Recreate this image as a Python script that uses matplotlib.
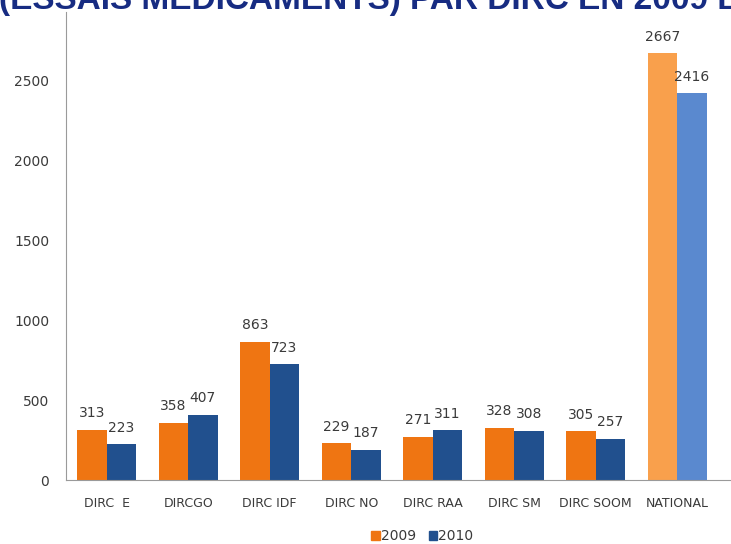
import numpy as np
from matplotlib import pyplot as plt
from matplotlib.patches import Patch

categories = ["DIRC  E", "DIRCGO", "DIRC IDF", "DIRC NO", "DIRC RAA",
              "DIRC SM", "DIRC SOOM", "NATIONAL"]
values_2009 = [313, 358, 863, 229, 271, 328, 305, 2667]
values_2010 = [223, 407, 723, 187, 311, 308, 257, 2416]
years = ["2009", "2010"]

ORANGE = "#EF7512"
BLUE = "#21508E"
ORANGE_NAT = "#F9A04C"
BLUE_NAT = "#5A89CF"
TITLE_COLOR = "#172C82"
TEXT = "#3A3A3A"

fig = plt.figure(figsize=(7.31, 5.44), dpi=100)
# axis runs from y=12px down to y=480px, x from 66px to the right edge
ax = fig.add_axes([66 / 731, 1 - 480 / 544, 1 - 66 / 731, 468 / 544])

x = np.arange(len(categories))
w = 0.36
col09 = [ORANGE] * 7 + [ORANGE_NAT]
col10 = [BLUE] * 7 + [BLUE_NAT]
b1 = ax.bar(x - w / 2, values_2009, w, color=col09, edgecolor="none")
b2 = ax.bar(x + w / 2, values_2010, w, color=col10, edgecolor="none")

for bars, vals in ((b1, values_2009), (b2, values_2010)):
    for bar, v in zip(bars, vals):
        ax.annotate(str(v), (bar.get_x() + bar.get_width() / 2, v),
                    xytext=(0, 12), textcoords="offset points",
                    ha="center", va="center", fontsize=10, color=TEXT)

ax.set_xlim(-0.5, 7.66)
ax.set_ylim(0, 2925)
ax.set_yticks([0, 500, 1000, 1500, 2000, 2500])
ax.set_xticks(x)
ax.set_xticklabels(categories, fontsize=9, color=TEXT)
ax.tick_params(axis="y", labelsize=10, colors=TEXT, length=0, pad=12)
ax.tick_params(axis="x", length=0, pad=12)
for s in ("top", "right"):
    ax.spines[s].set_visible(False)
ax.spines["left"].set_color("#9A9A9A")
ax.spines["bottom"].set_color("#9A9A9A")
ax.patch.set_alpha(0)

handles = [Patch(color=ORANGE), Patch(color=BLUE)]
fig.legend(handles, years, loc="center", bbox_to_anchor=(0.578, 0.014),
           ncol=2, frameon=False, fontsize=10, handlelength=0.6,
           handleheight=0.6, handletextpad=0.1, columnspacing=0.9,
           labelcolor=TEXT)

# title is cropped at the top edge in the reference
fig.text(-0.002, 1 - 9 / 544, "(ESSAIS MEDICAMENTS) PAR DIRC EN 2009 ET 2010",
         fontsize=24, fontweight="bold", color=TITLE_COLOR,
         family=["Liberation Sans", "DejaVu Sans"], va="baseline", ha="left")

fig.savefig("out.png", dpi=100)
